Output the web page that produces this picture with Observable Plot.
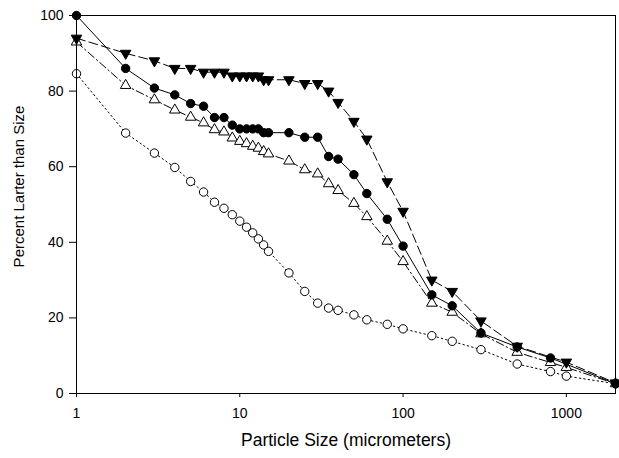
<!DOCTYPE html>
<html>
<head>
<meta charset="utf-8">
<script src="https://cdn.jsdelivr.net/npm/d3@7"></script>
<script src="https://cdn.jsdelivr.net/npm/@observablehq/plot@0.6"></script>
<style>
  html, body { margin: 0; padding: 0; background: white; }
  #chart { width: 619px; height: 458px; }
</style>
</head>
<body>
<div id="chart"></div>
<script>
// Tick values
const xTicks = [1, 10, 100, 1000];
const yTicks = [0, 20, 40, 60, 80, 100];
const xLabel = "Particle Size (micrometers)";
const yLabel = "Percent Larter than Size";

// Series 1: filled circles, solid line
const filledCircleX = [1,2,3,4,5,6,7,8,9,10,11,12,13,14,15,20,25,30,35,40,50,60,80,100,150,200,300,500,800,2000];
const filledCircleY = [100,86,80.8,79,76.7,76,73,73,71,70,70,70,70,69,69,69,67.8,67.8,62.7,62,57.9,52.9,46.1,39,26.1,23.2,16,12.3,9.4,2.6];

// Series 2: filled down triangles, dashed line
const filledTriX = [1,2,3,4,5,6,7,8,9,10,11,12,13,14,15,20,25,30,35,40,50,60,80,100,150,200,300,500,1000,2000];
const filledTriY = [94,90,88,86,86,85,85,85,84,84,84,84,84,83,83,83,82,82,80,77,72,67.3,56,48.2,30,27,19.2,12.5,8.3,2.8];

// Series 3: open up triangles, dash-dot line
const openTriX = [1,2,3,4,5,6,7,8,9,10,11,12,13,14,15,20,25,30,35,40,50,60,80,100,150,200,300,500,800,1000,2000];
const openTriY = [93,81.5,77.7,75,73.1,71.6,69.8,69.2,67.6,66.7,66.1,65.4,64.9,64,63.4,61.5,59.2,58.1,55.5,53.7,50.3,46.8,40.3,34.9,23.9,21.5,15.8,10.9,8.2,6.9,2.6];

// Series 4: open circles, dotted line
const openCircleX = [1,2,3,4,5,6,7,8,9,10,11,12,13,14,15,20,25,30,35,40,50,60,80,100,150,200,300,500,800,1000,2000];
const openCircleY = [84.6,68.9,63.6,59.8,56.1,53.3,50.6,49,47.3,45.6,44,42.5,40.9,39.3,37.6,31.9,27,23.9,22.6,22,20.8,19.5,18.3,17.1,15.3,13.8,11.6,7.8,5.8,4.6,2.6];

const toRows = (xs, ys) => xs.map((x, i) => ({x, y: ys[i]}));
const s1 = toRows(filledCircleX, filledCircleY);
const s2 = toRows(filledTriX, filledTriY);
const s3 = toRows(openTriX, openTriY);
const s4 = toRows(openCircleX, openCircleY);

const triDown = {
  draw(ctx, size) {
    const y = -Math.sqrt(size / (Math.sqrt(3) * 3));
    ctx.moveTo(0, -y * 2);
    ctx.lineTo(-Math.sqrt(3) * y, y);
    ctx.lineTo(Math.sqrt(3) * y, y);
    ctx.closePath();
  }
};

const chart = Plot.plot({
  width: 619,
  height: 458,
  marginLeft: 76,
  marginRight: 4,
  marginTop: 15,
  marginBottom: 65,
  style: {fontFamily: "'Liberation Sans', Arial, sans-serif", fontSize: "14px", color: "black", background: "white"},
  x: {type: "log", domain: [1, 2000]},
  y: {domain: [0, 100]},
  marks: [
    Plot.axisX({ticks: xTicks, tickFormat: d3.format("d"), tickSize: 4, tickPadding: 11, label: null, fontSize: 14}),
    Plot.axisY({ticks: yTicks, tickSize: 7, tickPadding: 6, label: null, fontSize: 14}),
    Plot.text([xLabel], {frameAnchor: "bottom", dy: 52, text: d => d, fontSize: 17.5, fill: "black"}),
    Plot.text([yLabel], {frameAnchor: "left", textAnchor: "middle", rotate: -90, dx: -57, dy: -18, text: d => d, fontSize: 15, fill: "black"}),
    Plot.line(s4, {x: "x", y: "y", stroke: "black", strokeWidth: 1, strokeDasharray: "1.5,3"}),
    Plot.line(s3, {x: "x", y: "y", stroke: "black", strokeWidth: 1, strokeDasharray: "8,3,1.5,3"}),
    Plot.line(s2, {x: "x", y: "y", stroke: "black", strokeWidth: 1, strokeDasharray: "9,4"}),
    Plot.line(s1, {x: "x", y: "y", stroke: "black", strokeWidth: 1}),
    Plot.dot(s4, {x: "x", y: "y", symbol: "circle", r: 4.2, fill: "white", stroke: "black", strokeWidth: 1}),
    Plot.dot(s3, {x: "x", y: "y", symbol: "triangle", r: 3.9, fill: "white", stroke: "black", strokeWidth: 1}),
    Plot.dot(s2, {x: "x", y: "y", symbol: triDown, r: 3.9, fill: "black", stroke: "black", strokeWidth: 1}),
    Plot.dot(s1, {x: "x", y: "y", symbol: "circle", r: 4.2, fill: "black", stroke: "black", strokeWidth: 1}),
    Plot.frame({stroke: "black", strokeWidth: 1})
  ]
});
document.getElementById("chart").appendChild(chart);
</script>
</body>
</html>
